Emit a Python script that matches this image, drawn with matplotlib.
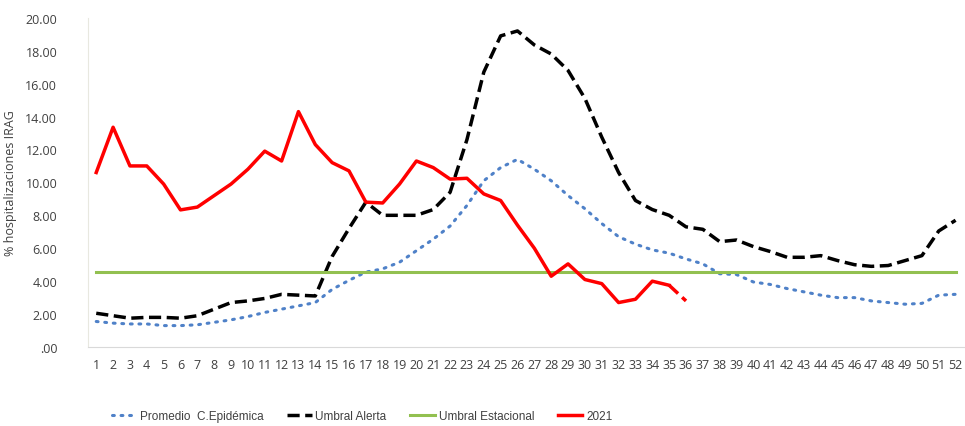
import matplotlib.pyplot as plt
from matplotlib.ticker import FuncFormatter, MultipleLocator

plt.rcParams['font.family'] = ['Open Sans', 'DejaVu Sans']

semanas = list(range(1, 53))

promedio = [1.55, 1.45, 1.4, 1.4, 1.3, 1.3, 1.35, 1.5, 1.65, 1.85, 2.1, 2.3, 2.5, 2.7,
            3.5, 4.05, 4.55, 4.75, 5.15, 5.85, 6.55, 7.35, 8.6, 10.1, 10.9, 11.4,
            10.8, 10.1, 9.2, 8.4, 7.5, 6.7, 6.25, 5.9, 5.7, 5.35, 5.05, 4.45, 4.4,
            3.95, 3.8, 3.55, 3.35, 3.15, 3.0, 3.0, 2.8, 2.7, 2.6, 2.65, 3.15, 3.2]

umbral_alerta = [2.05, 1.9, 1.75, 1.8, 1.8, 1.75, 1.9, 2.3, 2.7, 2.8, 2.95, 3.2, 3.15, 3.1,
                 5.5, 7.2, 8.8, 8.0, 8.0, 8.0, 8.35, 9.4, 12.6, 16.7, 18.9, 19.2,
                 18.35, 17.8, 16.8, 15.1, 12.75, 10.6, 8.9, 8.35, 8.0, 7.3, 7.15, 6.4,
                 6.5, 6.1, 5.8, 5.45, 5.45, 5.55, 5.25, 5.0, 4.9, 4.95, 5.25, 5.55,
                 7.05, 7.7]

umbral_estacional = [4.55] * 52

semanas_2021 = list(range(1, 37))
valores_2021 = [10.6, 13.35, 11.0, 11.0, 9.9, 8.33, 8.5, 9.2, 9.9, 10.8, 11.9, 11.3,
                14.3, 12.3, 11.2, 10.7, 8.8, 8.75, 9.9, 11.3, 10.9, 10.2, 10.25, 9.3,
                8.9, 7.4, 6.0, 4.3, 5.05, 4.1, 3.85, 2.7, 2.9, 4.0, 3.75, 2.8]

fig = plt.figure(figsize=(9.65, 4.27), dpi=100)
ax = fig.add_axes([0.091, 0.185, 0.908, 0.771])

ax.plot(semanas, promedio, color='#4f81c8', linewidth=2.2, linestyle=(0, (0.6, 2.2)),
        dash_capstyle='round', label='Promedio  C.Epidémica')
ax.plot(semanas, umbral_alerta, color='black', linewidth=2.5, linestyle=(0, (3.5, 1.6)),
        label='Umbral Alerta')
ax.plot(semanas, umbral_estacional, color='#92c050', linewidth=2.2, label='Umbral Estacional')
ax.plot(semanas_2021[:-1], valores_2021[:-1], color='#ff0000', linewidth=2.5, label='2021')
ax.plot(semanas_2021[-2:], valores_2021[-2:], color='#ff0000', linewidth=2.5,
        linestyle=(0, (3.5, 1.6)))

ax.set_xlim(0.5, 52.5)
ax.set_ylim(0, 20)
ax.set_xticks(semanas)
ax.set_xticklabels([str(s) for s in semanas])
ax.yaxis.set_major_locator(MultipleLocator(2))
ax.yaxis.set_major_formatter(FuncFormatter(lambda v, p: f"{v:.2f}".lstrip('0') if v < 1 else f"{v:.2f}"))
ax.tick_params(axis='both', length=0, labelsize=9, colors='#404040')
ax.tick_params(axis='x', pad=8)
ax.tick_params(axis='y', pad=22)

for s in ['top', 'right']:
    ax.spines[s].set_visible(False)
ax.spines['left'].set_color('#e8e8e0')
ax.spines['bottom'].set_color('#d9d9d9')

ax.set_ylabel('% hospitalizaciones IRAG', fontsize=9, color='#404040', labelpad=6)

leg = fig.legend(loc='lower center', bbox_to_anchor=(0.375, -0.016), ncol=4, frameon=False,
                 prop={'family': ['Liberation Sans', 'DejaVu Sans'], 'size': 8.5},
                 handlelength=2.1, columnspacing=2.0, handletextpad=0.3)
for t in leg.get_texts():
    t.set_color('#404040')

fig.savefig('out.png', dpi=100)
